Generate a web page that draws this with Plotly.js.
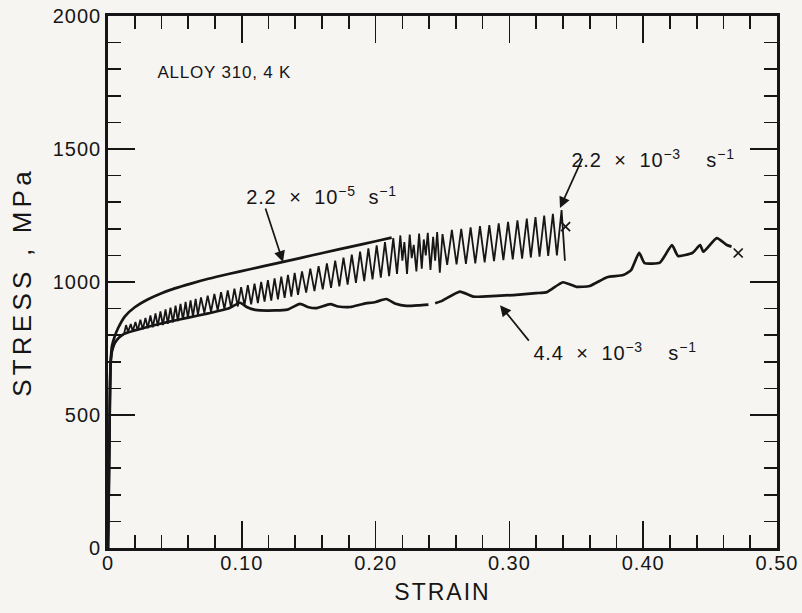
<!DOCTYPE html>
<html>
<head>
<meta charset="utf-8">
<script src="https://cdn.plot.ly/plotly-3.0.1.min.js"></script>
<style>
html, body { margin: 0; padding: 0; background: #f7f5f2; }
#chart { width: 802px; height: 613px; }
#chart .xtick text, #chart .ytick text { letter-spacing: 1px; }
#chart .annotation-text { letter-spacing: 0.8px; }
#chart .xtitle { letter-spacing: 2px; }
#chart .ytitle { letter-spacing: 4.2px; }
</style>
</head>
<body>
<div id="chart"></div>
<script>
// ---- data ----
const strainUpper = [0, 0.0008, 0.0015, 0.002, 0.003, 0.005, 0.0075, 0.0125, 0.02, 0.03, 0.04, 0.05, 0.062, 0.075, 0.09, 0.106, 0.125, 0.1435, 0.162, 0.181, 0.2, 0.212];
const stressUpper = [0, 300, 600, 700, 760, 795, 826, 870, 905, 935, 958, 976, 994, 1012, 1030, 1048, 1069, 1090, 1111, 1132, 1153, 1167];

const strainSerrated = [0, 0.0008, 0.0015, 0.002, 0.003, 0.005, 0.008, 0.012,
  0.0135, 0.0150, 0.0170, 0.0185, 0.0205, 0.0222, 0.0242, 0.0260, 0.0280, 0.0297, 0.0317, 0.0335, 0.0355, 0.0372, 0.0392, 0.0410, 0.0430, 0.0447, 0.0467, 0.0485, 0.0505, 0.0522, 0.0542, 0.0560, 0.0580, 0.0597, 0.0617, 0.0635, 0.0655, 0.0672,
  0.0695, 0.0720, 0.0745, 0.0770, 0.0795, 0.0820, 0.0845, 0.0870, 0.0895, 0.0920, 0.0945, 0.0970, 0.0995, 0.1020, 0.1045, 0.1070, 0.1095, 0.1120, 0.1145, 0.1170, 0.1195, 0.1220, 0.1245, 0.1270, 0.1295, 0.1320, 0.1345, 0.1370, 0.1395, 0.1420,
  0.1450, 0.1481, 0.1512, 0.1543, 0.1574, 0.1605, 0.1636, 0.1667, 0.1698, 0.1729, 0.1760, 0.1791, 0.1822, 0.1853, 0.1884, 0.1915, 0.1946, 0.1977, 0.2008, 0.2039, 0.2070, 0.2101, 0.2132, 0.2160,
  0.2185, 0.2200, 0.2215, 0.2235, 0.2255, 0.2270, 0.2285, 0.2305, 0.2325, 0.2345, 0.2360, 0.2375, 0.2390, 0.2410, 0.2430, 0.2445, 0.2460, 0.2480, 0.2500,
  0.2535, 0.2570, 0.2605, 0.2640, 0.2675, 0.2710, 0.2745, 0.2780, 0.2815, 0.2850, 0.2885, 0.2920, 0.2955, 0.2990, 0.3025, 0.3060, 0.3095, 0.3130, 0.3160, 0.3195, 0.3225, 0.3260, 0.3290, 0.3325, 0.3355, 0.3390, 0.3415];
const stressSerrated = [0, 300, 600, 700, 740, 770, 790, 805,
  838, 812, 842, 815, 850, 818, 858, 822, 865, 826, 874, 830, 882, 834, 889, 838, 897, 843, 904, 848, 911, 853, 918, 858, 925, 864, 931, 870, 937, 876,
  942, 884, 949, 888, 955, 893, 962, 898, 968, 903, 975, 908, 981, 912, 988, 916, 994, 921, 1000, 926, 1007, 930, 1014, 935, 1020, 940, 1027, 945, 1034, 952,
  1040, 960, 1050, 966, 1060, 972, 1070, 978, 1080, 984, 1092, 990, 1103, 997, 1114, 1003, 1126, 1010, 1138, 1016, 1150, 1022, 1165, 1030,
  1175, 1080, 1150, 1030, 1178, 1090, 1140, 1040, 1182, 1050, 1160, 1100, 1185, 1045, 1170, 1080, 1188, 1035, 1180,
  1064, 1196, 1066, 1200, 1068, 1205, 1070, 1210, 1074, 1214, 1078, 1220, 1082, 1226, 1085, 1232, 1088, 1238, 1092, 1244, 1095, 1250, 1098, 1256, 1100, 1270, 1080];

const strainLower = [0, 0.0008, 0.0015, 0.002, 0.003, 0.005, 0.008, 0.012, 0.02, 0.03, 0.045, 0.06, 0.075, 0.09, 0.0987, 0.104, 0.11, 0.125, 0.134, 0.1435, 0.15, 0.156, 0.166, 0.172, 0.181, 0.191, 0.2, 0.208, 0.215, 0.223, 0.232, 0.2395, 0.2405, 0.2445, 0.25, 0.263, 0.273, 0.29, 0.303, 0.32, 0.328, 0.34, 0.35, 0.36, 0.373, 0.385, 0.391, 0.397, 0.401, 0.4125, 0.4215, 0.426, 0.437, 0.4425, 0.445, 0.455, 0.4625, 0.466];
const stressLower = [0, 300, 600, 700, 740, 770, 790, 805, 818, 832, 850, 866, 882, 900, 922, 905, 895, 893, 896, 918, 905, 902, 917, 908, 906, 918, 925, 936, 918, 910, 912, 915, null, 920, 930, 964, 945, 948, 951, 958, 962, 999, 982, 985, 1018, 1026, 1045, 1110, 1071, 1073, 1139, 1098, 1110, 1139, 1114, 1165, 1139, 1133];

const fractureStrain = [0.342, 0.471];
const fractureStress = [1208, 1109];

const xTickVals = [0, 0.1, 0.2, 0.3, 0.4, 0.5];
const xTickText = ["0", "0.10", "0.20", "0.30", "0.40", "0.50"];
const yTickVals = [0, 500, 1000, 1500, 2000];
const yTickText = ["0", "500", "1000", "1500", "2000"];

const rateLabels = [
  "2.2\u00A0\u00A0×\u00A0\u00A010<sup>−5</sup>\u00A0\u00A0s<sup>−1</sup>",
  "2.2\u00A0\u00A0×\u00A0\u00A010<sup>−3</sup>\u00A0\u00A0\u00A0\u00A0s<sup>−1</sup>",
  "4.4\u00A0\u00A0×\u00A0\u00A010<sup>−3</sup>\u00A0\u00A0\u00A0\u00A0s<sup>−1</sup>"
];
const rateLabelStrain = [0.1596, 0.4070, 0.3790];
const rateLabelStress = [1327, 1464, 737];
const arrowHeadStrain = [0.1308, 0.3378, 0.293];
const arrowHeadStress = [1075, 1278, 913];
const arrowTailDx = [-18, 23, 30];
const arrowTailDy = [-55, -51, 37];

// ---- chart ----
const ink = '#161616';
const font = 'Liberation Sans, Arial, Helvetica, sans-serif';

const traces = [
  { x: strainUpper, y: stressUpper, mode: 'lines', line: { color: ink, width: 2.7, shape: 'spline', smoothing: 0.6 }, hoverinfo: 'skip' },
  { x: strainSerrated, y: stressSerrated, mode: 'lines', line: { color: ink, width: 1.8 }, hoverinfo: 'skip' },
  { x: strainLower, y: stressLower, mode: 'lines', line: { color: ink, width: 2.7, shape: 'spline', smoothing: 0.5 }, connectgaps: false, hoverinfo: 'skip' },
  { x: fractureStrain, y: fractureStress, mode: 'markers', marker: { symbol: 'x-thin', size: 9, line: { color: ink, width: 1.7 } }, hoverinfo: 'skip' }
];

const annotations = [
  { x: 0.0395, y: 1786, xref: 'x', yref: 'y', text: 'ALLOY 310, 4 K', showarrow: false, xanchor: 'left', yanchor: 'middle', font: { family: font, size: 17, color: ink } }
];
for (let i = 0; i < rateLabels.length; i++) {
  annotations.push({ x: rateLabelStrain[i], y: rateLabelStress[i], xref: 'x', yref: 'y', text: rateLabels[i], showarrow: false, xanchor: 'center', yanchor: 'middle', font: { family: font, size: 20, color: ink } });
  annotations.push({ x: arrowHeadStrain[i], y: arrowHeadStress[i], xref: 'x', yref: 'y', text: '', showarrow: true, ax: arrowTailDx[i], ay: arrowTailDy[i], arrowhead: 2, arrowsize: 1.3, arrowwidth: 1.7, arrowcolor: ink });
}

const axisCommon = {
  ticks: 'inside', tickwidth: 1.7, tickcolor: ink, ticklen: 27,
  showline: true, linewidth: 2.8, linecolor: ink, mirror: 'ticks',
  showgrid: false, zeroline: false,
  tickfont: { family: font, size: 20, color: ink }
};

const layout = {
  width: 802, height: 613,
  margin: { l: 108, r: 25, t: 16, b: 65 },
  paper_bgcolor: '#f7f5f2', plot_bgcolor: '#f7f5f2',
  showlegend: false,
  xaxis: Object.assign({}, axisCommon, {
    range: [0, 0.5], tickmode: 'array', tickvals: xTickVals, ticktext: xTickText,
    ticklabelstandoff: -5,
    minor: { tickmode: 'linear', tick0: 0, dtick: 0.02, ticks: 'inside', ticklen: 13, tickwidth: 1.7, tickcolor: ink, showgrid: false },
    title: { text: 'STRAIN', font: { family: font, size: 23, color: ink }, standoff: 12 }
  }),
  yaxis: Object.assign({}, axisCommon, {
    range: [0, 2000], tickmode: 'array', tickvals: yTickVals, ticktext: yTickText,
    minor: { tickmode: 'linear', tick0: 0, dtick: 100, ticks: 'inside', ticklen: 13, tickwidth: 1.7, tickcolor: ink, showgrid: false },
    title: { text: 'STRESS , MPa', font: { family: font, size: 26, color: ink }, standoff: 18 }
  }),
  annotations: annotations
};

Plotly.newPlot('chart', traces, layout, { staticPlot: true, displayModeBar: false });
</script>
</body>
</html>
